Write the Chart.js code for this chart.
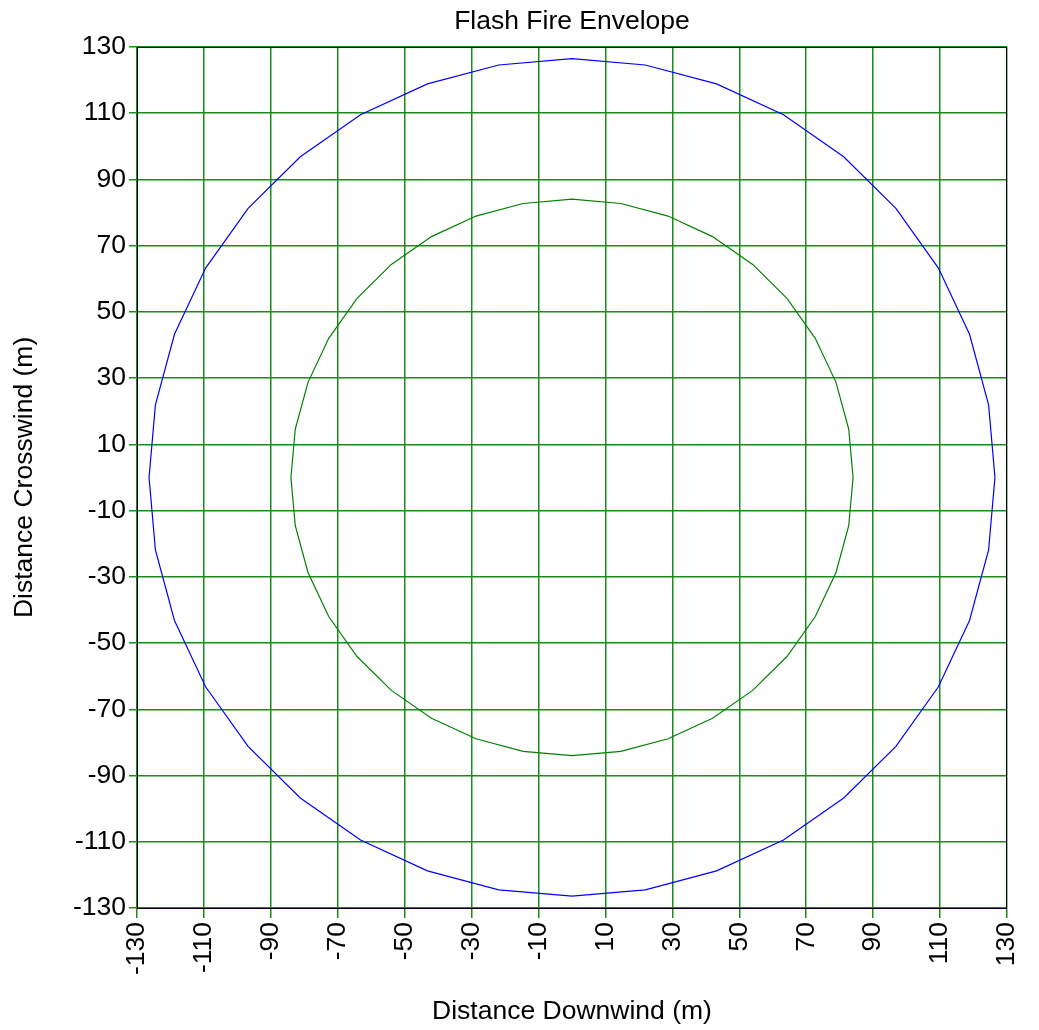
<!DOCTYPE html>
<html>
<head>
<meta charset="utf-8">
<script src="https://cdn.jsdelivr.net/npm/chart.js@4"></script>
<style>
  body { margin: 0; background: #fff; }
  #wrap { width: 1039px; height: 1030px; position: relative; }
</style>
</head>
<body>
<div id="wrap"><canvas id="envelopeCanvas"></canvas></div>
<script>
// tick labels on both axes
const tickValues = [-130, -110, -90, -70, -50, -30, -10, 10, 30, 50, 70, 90, 110, 130];

// outer envelope (blue)
const outerX = [126.4, 124.5, 118.8, 109.5, 96.8, 81.2, 63.2, 43.2, 21.9, 0,
  -21.9, -43.2, -63.2, -81.2, -96.8, -109.5, -118.8, -124.5, -126.4,
  -124.5, -118.8, -109.5, -96.8, -81.2, -63.2, -43.2, -21.9, 0,
  21.9, 43.2, 63.2, 81.2, 96.8, 109.5, 118.8, 124.5, 126.4];
const outerY = [0, 21.9, 43.2, 63.2, 81.2, 96.8, 109.5, 118.8, 124.5, 126.4,
  124.5, 118.8, 109.5, 96.8, 81.2, 63.2, 43.2, 21.9, 0,
  -21.9, -43.2, -63.2, -81.2, -96.8, -109.5, -118.8, -124.5, -126.4,
  -124.5, -118.8, -109.5, -96.8, -81.2, -63.2, -43.2, -21.9, 0];

// inner envelope (green)
const innerX = [84, 82.7, 78.9, 72.7, 64.3, 54, 42, 28.7, 14.6, 0,
  -14.6, -28.7, -42, -54, -64.3, -72.7, -78.9, -82.7, -84,
  -82.7, -78.9, -72.7, -64.3, -54, -42, -28.7, -14.6, 0,
  14.6, 28.7, 42, 54, 64.3, 72.7, 78.9, 82.7, 84];
const innerY = [0, 14.6, 28.7, 42, 54, 64.3, 72.7, 78.9, 82.7, 84,
  82.7, 78.9, 72.7, 64.3, 54, 42, 28.7, 14.6, 0,
  -14.6, -28.7, -42, -54, -64.3, -72.7, -78.9, -82.7, -84,
  -82.7, -78.9, -72.7, -64.3, -54, -42, -28.7, -14.6, 0];

const FONT = "'Liberation Sans', Arial, sans-serif";
const FONT_SIZE = 26.5;
const GRID_GREEN = '#1a8c1a';

function toPoints(xs, ys) {
  return xs.map((x, i) => ({ x: x, y: ys[i] }));
}

// black frame round the plot area
const framePlugin = {
  id: 'frame',
  afterDraw(chart) {
    const { ctx, chartArea } = chart;
    const l = Math.round(chartArea.left) + 0.5;
    const t = Math.round(chartArea.top) + 0.5;
    const r = Math.round(chartArea.right) - 0.5;
    const b = Math.round(chartArea.bottom) + 0.5;
    ctx.save();
    ctx.strokeStyle = '#000';
    ctx.lineWidth = 1;
    ctx.strokeRect(l, t, r - l, b - t);
    ctx.restore();
  }
};

function fixedTicks(scale) {
  scale.ticks = tickValues.map(v => ({ value: v }));
}

const ctx = document.getElementById('envelopeCanvas').getContext('2d');
new Chart(ctx, {
  type: 'scatter',
  data: {
    datasets: [
      {
        label: 'outer',
        data: toPoints(outerX, outerY),
        showLine: true,
        borderColor: '#0000ff',
        borderWidth: 1.2,
        pointRadius: 0,
        tension: 0,
        fill: false
      },
      {
        label: 'inner',
        data: toPoints(innerX, innerY),
        showLine: true,
        borderColor: '#008000',
        borderWidth: 1.2,
        pointRadius: 0,
        tension: 0,
        fill: false
      }
    ]
  },
  options: {
    responsive: true,
    maintainAspectRatio: false,
    animation: false,
    layout: { padding: { left: 0, right: 32, top: 0, bottom: 0 } },
    plugins: {
      legend: { display: false },
      tooltip: { enabled: false },
      title: {
        display: true,
        fullSize: false,
        text: 'Flash Fire Envelope',
        color: '#000',
        font: { family: FONT, size: FONT_SIZE, weight: 'normal' },
        padding: { top: 6, bottom: 9 }
      }
    },
    scales: {
      x: {
        type: 'linear',
        min: -130,
        max: 130,
        afterBuildTicks: fixedTicks,
        afterFit(scale) {
          scale.height = 122;
          scale.paddingLeft = 0;
          scale.paddingRight = 0;
        },
        grid: { color: GRID_GREEN, lineWidth: 1.5, tickLength: 10, drawTicks: true },
        border: { display: false },
        ticks: {
          autoSkip: false,
          minRotation: 90,
          maxRotation: 90,
          padding: 4,
          color: '#000',
          font: { family: FONT, size: FONT_SIZE }
        },
        title: {
          display: true,
          text: 'Distance Downwind (m)',
          color: '#000',
          font: { family: FONT, size: FONT_SIZE },
          padding: { top: 0, bottom: 2 }
        }
      },
      y: {
        type: 'linear',
        min: -130,
        max: 130,
        afterBuildTicks: fixedTicks,
        afterFit(scale) {
          scale.width = 137;
          scale.paddingTop = 0;
          scale.paddingBottom = 0;
        },
        grid: { color: GRID_GREEN, lineWidth: 1.5, tickLength: 8, drawTicks: true },
        border: { display: false },
        ticks: {
          autoSkip: false,
          padding: 3,
          color: '#000',
          font: { family: FONT, size: FONT_SIZE }
        },
        title: {
          display: true,
          text: 'Distance Crosswind (m)',
          color: '#000',
          font: { family: FONT, size: FONT_SIZE },
          padding: { top: 9, bottom: 0 }
        }
      }
    }
  },
  plugins: [framePlugin]
});
</script>
</body>
</html>
